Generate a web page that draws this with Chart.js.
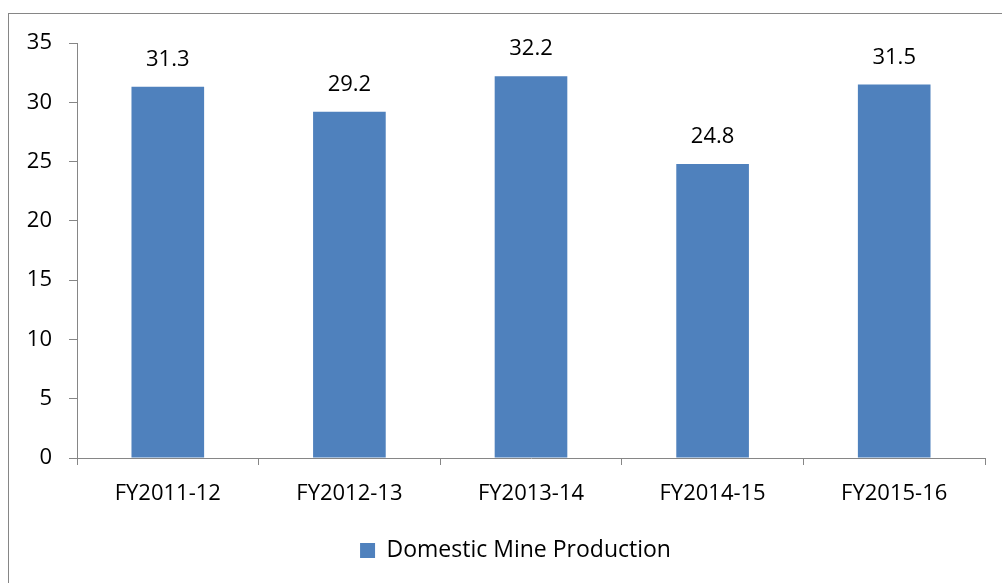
<!DOCTYPE html>
<html>
<head>
<meta charset="utf-8">
<script src="https://cdn.jsdelivr.net/npm/chart.js@4"></script>
<style>
html,body{margin:0;padding:0;background:#fff;}
canvas{display:block;}
</style>
</head>
<body>
<canvas id="c" width="1002" height="583"></canvas>
<script>
const categories = ["FY2011-12", "FY2012-13", "FY2013-14", "FY2014-15", "FY2015-16"];
const seriesName = "Domestic Mine Production";
const values = [31.3, 29.2, 32.2, 24.8, 31.5];
const yTicks = [0, 5, 10, 15, 20, 25, 30, 35];

const FONT = "'Open Sans', 'Liberation Sans', sans-serif";
const AXIS = "#868686";

const frame = {
  id: 'frame',
  beforeDraw(chart) {
    const ctx = chart.ctx;
    ctx.save();
    ctx.fillStyle = '#fff';
    ctx.fillRect(0, 0, chart.width, chart.height);
    ctx.strokeStyle = AXIS;
    ctx.lineWidth = 1;
    ctx.strokeRect(8.5, 13.5, 1200, 1000);
    ctx.restore();
  }
};

const legendShift = {
  id: 'legendShift',
  afterLayout(chart) {
    if (chart.legend) {
      chart.legend.left += 23;
      chart.legend.right += 23;
    }
  }
};

const valueLabels = {
  id: 'valueLabels',
  afterDatasetsDraw(chart) {
    const ctx = chart.ctx;
    const meta = chart.getDatasetMeta(0);
    ctx.save();
    ctx.font = "22px " + FONT;
    ctx.fillStyle = '#000';
    ctx.textAlign = 'center';
    ctx.textBaseline = 'middle';
    meta.data.forEach((bar, i) => {
      ctx.fillText(values[i].toFixed(1), bar.x, bar.y - 27);
    });
    ctx.restore();
  }
};

new Chart(document.getElementById('c'), {
  type: 'bar',
  data: {
    labels: categories,
    datasets: [{
      label: seriesName,
      data: values,
      backgroundColor: '#4F81BD',
      borderWidth: 0,
      categoryPercentage: 0.4,
      barPercentage: 1.0
    }]
  },
  options: {
    responsive: false,
    animation: false,
    devicePixelRatio: 1,
    layout: { padding: { top: 43, right: 17, left: 0, bottom: 11 } },
    plugins: {
      legend: {
        position: 'bottom',
        labels: {
          boxWidth: 15, boxHeight: 15, padding: 10,
          color: '#000',
          font: { size: 23, family: FONT }
        }
      },
      tooltip: { enabled: false }
    },
    scales: {
      x: {
        offset: true,
        grid: {
          offset: true,
          drawOnChartArea: false,
          drawTicks: true,
          tickLength: 7,
          color: AXIS
        },
        border: { color: AXIS, width: 1 },
        ticks: {
          color: '#000',
          font: { size: 22, family: FONT },
          padding: 16,
          maxRotation: 0
        },
        afterFit(scale) { scale.height = 71; }
      },
      y: {
        min: 0, max: 35,
        afterBuildTicks(scale) { scale.ticks = yTicks.map(v => ({ value: v })); },
        grid: {
          drawOnChartArea: false,
          drawTicks: true,
          tickLength: 8,
          color: AXIS
        },
        border: { color: AXIS, width: 1 },
        ticks: {
          color: '#000',
          font: { size: 22, family: FONT },
          padding: 17
        },
        afterFit(scale) { scale.width = 77; }
      }
    }
  },
  plugins: [frame, legendShift, valueLabels]
});
</script>
</body>
</html>
